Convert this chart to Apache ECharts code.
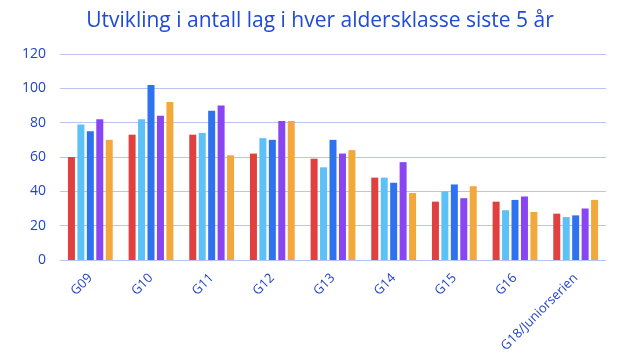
<!DOCTYPE html>
<html><head><meta charset="utf-8">
<script src="https://cdn.jsdelivr.net/npm/echarts@6/dist/echarts.min.js"></script>
<style>html,body{margin:0;padding:0;background:#fff}#c{width:640px;height:360px}</style>
</head><body><div id="c"></div>
<script>
const categories = ['G09','G10','G11','G12','G13','G14','G15','G16','G18/Juniorserien'];
const year1 = [60, 73, 73, 62, 59, 48, 34, 34, 27];
const year2 = [79, 82, 74, 71, 54, 48, 40, 29, 25];
const year3 = [75, 102, 87, 70, 70, 45, 44, 35, 26];
const year4 = [82, 84, 90, 81, 62, 57, 36, 37, 30];
const year5 = [70, 92, 61, 81, 64, 39, 43, 28, 35];
const seriesData = [year1, year2, year3, year4, year5];
const colors = ['#e0403f', '#5cc1f6', '#2e72ef', '#8945f2', '#f2a83a'];
const textColor = '#2244c8';
const font = 'Open Sans';

const chart = echarts.init(document.getElementById('c'), null, {renderer: 'canvas'});
chart.setOption({
  animation: false,
  title: {
    text: 'Utvikling i antall lag i hver aldersklasse siste 5 år',
    left: 'center', top: 6,
    textStyle: {color: '#1e4ad6', fontFamily: font, fontSize: 21, fontWeight: 'normal'}
  },
  grid: {left: 60, right: 34, top: 54, bottom: 100},
  xAxis: {
    type: 'category', data: categories,
    axisTick: {show: false},
    axisLine: {lineStyle: {color: '#b8c4f2', width: 1}},
    axisLabel: {rotate: 45, color: textColor, fontFamily: font, fontSize: 13, margin: 16, interval: 0}
  },
  yAxis: {
    type: 'value', min: 0, max: 120, interval: 20,
    axisLabel: {color: textColor, fontFamily: font, fontSize: 14, margin: 14},
    splitLine: {lineStyle: {color: '#b8c4f2', width: 1}},
    axisLine: {show: false}, axisTick: {show: false}
  },
  series: seriesData.map((d, i) => ({
    type: 'bar', data: d, barWidth: 7, barGap: '35%',
    itemStyle: {color: colors[i]}
  }))
});
</script></body></html>
